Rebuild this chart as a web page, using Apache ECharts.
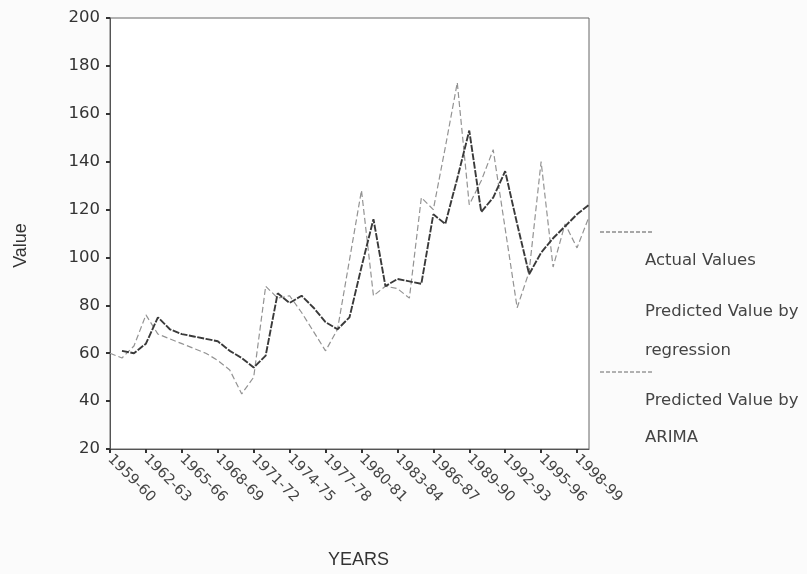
<!DOCTYPE html>
<html>
<head>
<meta charset="utf-8">
<script src="https://cdn.jsdelivr.net/npm/echarts@6/dist/echarts.min.js"></script>
<style>
html,body{margin:0;padding:0;background:#fbfbfb;}
#c{width:807px;height:574px;}
</style>
</head>
<body>
<div id="c"></div>
<script>
var years = ['1959-60','1960-61','1961-62','1962-63','1963-64','1964-65','1965-66','1966-67','1967-68','1968-69',
'1969-70','1970-71','1971-72','1972-73','1973-74','1974-75','1975-76','1976-77','1977-78','1978-79',
'1979-80','1980-81','1981-82','1982-83','1983-84','1984-85','1985-86','1986-87','1987-88','1988-89',
'1989-90','1990-91','1991-92','1992-93','1993-94','1994-95','1995-96','1996-97','1997-98','1998-99','1999-00'];

var actualValues = [60,58,63,76,68,66,64,62,60,57,
53,43,50,88,83,84,77,69,61,70,
99,128,84,88,87,83,125,120,146,173,
122,132,145,112,79,94,140,96,114,104,117];

var regressionValues = [null,null,null,null,null,null,null,null,null,null,
null,null,null,null,null,null,null,null,null,null,
null,null,null,null,null,null,null,null,null,null,
null,null,null,null,null,null,null,null,null,null,null];

var arimaValues = [null,61,60,64,75,70,68,67,66,65,
61,58,54,59,85,81,84,79,73,70,
75,96,116,88,91,90,89,118,114,133,
153,119,125,136,114,93,102,108,113,118,122];

var yTicks = {min:20, max:200, step:20};

var chart = echarts.init(document.getElementById('c'), null, {renderer:'canvas'});
var narrow = 'Liberation Sans Narrow, Arial Narrow, Liberation Sans, sans-serif';
var wide = 'DejaVu Sans, sans-serif';
chart.setOption({
  backgroundColor: '#fbfbfb',
  animation: false,
  grid: {left:110, right:218, top:18, bottom:123, show:true, backgroundColor:'#ffffff', borderColor:'#666', borderWidth:1},
  xAxis: {
    type:'category', data: years, boundaryGap:false,
    name:'YEARS', nameLocation:'middle', nameGap:102,
    nameTextStyle:{fontFamily:narrow, fontSize:18, color:'#333', padding:[0,0,0,18]},
    axisLine:{lineStyle:{color:'#555'}},
    axisTick:{show:true, interval:2, length:4, lineStyle:{color:'#333', width:2}},
    axisLabel:{interval:2, rotate:-45, fontFamily:wide, fontSize:14.5, color:'#444', margin:8},
    splitLine:{show:false}
  },
  yAxis: {
    type:'value', min:yTicks.min, max:yTicks.max, interval:yTicks.step,
    name:'Value', nameLocation:'middle', nameGap:80, nameRotate:90,
    nameTextStyle:{fontFamily:narrow, fontSize:18, color:'#333', padding:[0,24,0,0]},
    axisLine:{show:true, lineStyle:{color:'#555'}},
    axisTick:{show:true, length:4, lineStyle:{color:'#333', width:2}},
    axisLabel:{fontFamily:wide, fontSize:16.5, color:'#333', margin:10},
    splitLine:{show:false}
  },
  series: [
    {name:'Actual Values', type:'line', data: actualValues, symbol:'none', connectNulls:false,
     lineStyle:{color:'#939393', width:1.2, type:[6,3]}, z:2},
    {name:'Predicted Value by regression', type:'line', data: regressionValues, symbol:'none',
     lineStyle:{color:'#c8c8c8', width:1, type:'dotted'}, z:1},
    {name:'Predicted Value by ARIMA', type:'line', data: arimaValues, symbol:'none',
     lineStyle:{color:'#3a3a3a', width:1.9, type:[7,1.5]}, z:3}
  ],
  graphic: [
    {type:'line', shape:{x1:600, y1:232, x2:652, y2:232}, style:{stroke:'#555', lineWidth:1.2, lineDash:[4,2]}},
    {type:'text', left:645, top:252, style:{text:'Actual Values', font:'16.5px '+wide, fill:'#444'}},
    {type:'text', left:645, top:303, style:{text:'Predicted Value by', font:'16.5px '+wide, fill:'#444'}},
    {type:'text', left:645, top:342, style:{text:'regression', font:'16.5px '+wide, fill:'#444'}},
    {type:'line', shape:{x1:600, y1:372, x2:652, y2:372}, style:{stroke:'#666', lineWidth:1, lineDash:[4,2]}},
    {type:'text', left:645, top:392, style:{text:'Predicted Value by', font:'16.5px '+wide, fill:'#444'}},
    {type:'text', left:645, top:429, style:{text:'ARIMA', font:'16.5px '+wide, fill:'#444'}}
  ]
});
</script>
</body>
</html>
